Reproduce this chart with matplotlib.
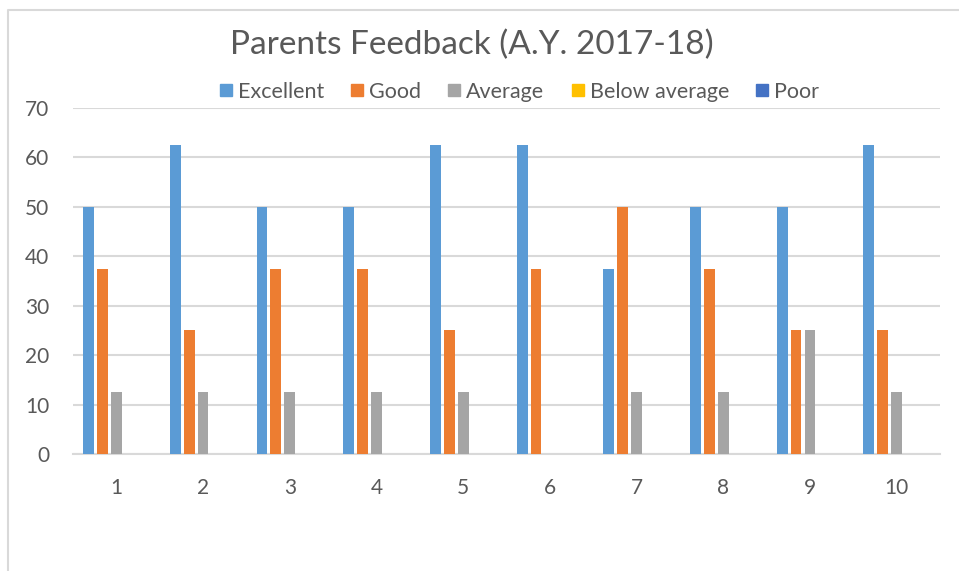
import matplotlib
matplotlib.use("Agg")
import matplotlib.pyplot as plt
from matplotlib.lines import Line2D
import numpy as np

plt.rcParams['font.family'] = ['Lato', 'DejaVu Sans']

categories = ["1", "2", "3", "4", "5", "6", "7", "8", "9", "10"]
series_names = ["Excellent", "Good", "Average", "Below average", "Poor"]
excellent = [50, 62.5, 50, 50, 62.5, 62.5, 37.5, 50, 50, 62.5]
good = [37.5, 25, 37.5, 37.5, 25, 37.5, 50, 37.5, 25, 25]
average = [12.5, 12.5, 12.5, 12.5, 12.5, 0, 12.5, 12.5, 25, 12.5]
below_average = [0, 0, 0, 0, 0, 0, 0, 0, 0, 0]
poor = [0, 0, 0, 0, 0, 0, 0, 0, 0, 0]
colors = ["#5B9BD5", "#ED7D31", "#A5A5A5", "#FFC000", "#4472C4"]
yticks = [0, 10, 20, 30, 40, 50, 60, 70]

series = [excellent, good, average, below_average, poor]
text_color = "#595959"
grid_color = "#D9D9D9"

fig = plt.figure(figsize=(9.59, 5.71), dpi=100)
ax = fig.add_axes([73/959, 1-454/571, (940-73)/959, (454-108)/571])

x = np.arange(len(categories))
step = 0.16
width = 0.125
for i, (name, vals, c) in enumerate(zip(series_names, series, colors)):
    ax.bar(x + (i - 2) * step, vals, width=width, color=c, label=name, zorder=3)

ax.set_xlim(-0.5, len(categories) - 0.5)
ax.set_ylim(0, 70)
ax.set_yticks(yticks)
ax.set_xticks(x)
ax.set_xticklabels(categories)
ax.yaxis.grid(True, color=grid_color, linewidth=1.5, zorder=0)
ax.set_axisbelow(True)
for s in ["top", "right", "left"]:
    ax.spines[s].set_visible(False)
ax.spines["bottom"].set_color(grid_color)
ax.spines["bottom"].set_linewidth(1.5)
ax.tick_params(axis="both", length=0, labelsize=15, colors=text_color)
ax.tick_params(axis="x", pad=17)
ax.tick_params(axis="y", pad=17)

fig.text(472/959, 1-45/571, "Parents Feedback (A.Y. 2017-18)", ha="center", va="center",
         fontsize=24, color=text_color)

handles = [Line2D([], [], marker="s", linestyle="none", markersize=9, color=c) for c in colors]
fig.legend(handles, series_names, loc="center", bbox_to_anchor=(517/959, 1-92/571), ncol=5,
           frameon=False, fontsize=15.5, labelcolor=text_color, handletextpad=0.05,
           columnspacing=1.05, handlelength=1.0)

# chart border (partially visible)
fig.add_artist(Line2D([8/959, 8/959, 1], [0, 1-10/571, 1-10/571], transform=fig.transFigure,
                      color=grid_color, linewidth=1.5))

fig.savefig("out.png", dpi=100)
